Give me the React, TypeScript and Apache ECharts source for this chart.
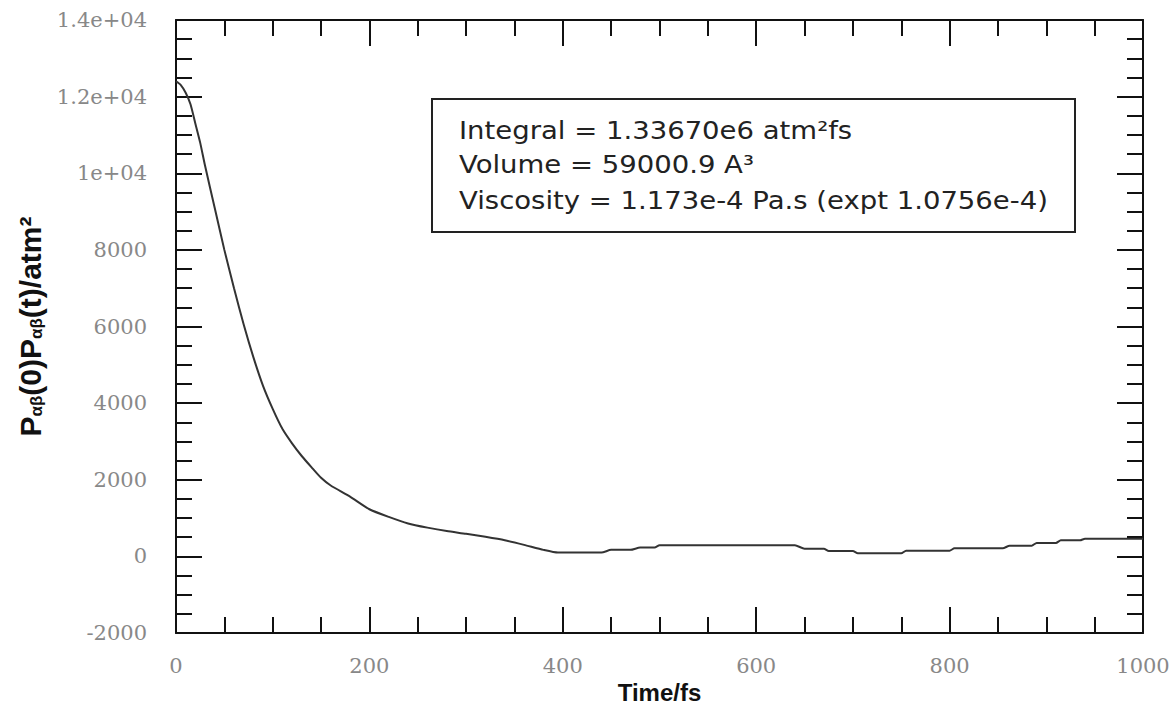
import React, { useEffect, useRef } from "react";
import * as echarts from "echarts";

const timeFs = [0, 5, 10, 15, 20, 25, 30, 40, 50, 60, 70, 80, 90, 100, 110, 120, 130, 140, 150, 160, 180, 200, 220, 240, 260, 280, 300, 320, 340, 360, 380, 395, 440, 450, 470, 480, 495, 500, 640, 650, 670, 675, 700, 705, 750, 755, 800, 805, 855, 862, 885, 890, 910, 915, 935, 940, 1000];
const corr = [12400, 12300, 12100, 11800, 11300, 10800, 10200, 9100, 8000, 7000, 6050, 5200, 4450, 3850, 3330, 2950, 2620, 2330, 2050, 1850, 1560, 1230, 1030, 860, 750, 660, 590, 510, 420, 300, 170, 100, 100, 170, 170, 230, 230, 290, 290, 200, 200, 140, 140, 80, 80, 150, 150, 210, 210, 280, 280, 350, 350, 420, 420, 460, 460];

const infoLines = [
  "Integral = 1.33670e6 atm\u00b2fs",
  "Volume = 59000.9 A\u00b3",
  "Viscosity = 1.173e-4 Pa.s (expt 1.0756e-4)",
];

const xTitle = "Time/fs";
const yTitle = "P{s|\u03b1\u03b2}(0)P{s|\u03b1\u03b2}(t)/atm\u00b2";

function fmtY(v: number): string {
  if (Math.abs(v) >= 10000) {
    return v.toExponential().replace(/e\+(\d)$/, "e+0$1");
  }
  return String(v);
}

export default function App() {
  const ref = useRef<HTMLDivElement>(null);
  useEffect(() => {
    if (!ref.current) return;
    const chart = echarts.init(ref.current, null, { renderer: "svg" });
    const axisLine = { show: true, onZero: false, lineStyle: { color: "#111", width: 2 } };
    const labelStyle = { color: "#888", fontFamily: "DejaVu Serif", fontSize: 21 };
    const tick = { show: true, inside: true, length: 26, lineStyle: { color: "#111", width: 2 } };
    const minor = { show: true, splitNumber: 4, length: 16, lineStyle: { color: "#111", width: 2 } };
    const commonX = {
      min: 0,
      max: 1000,
      interval: 200,
      axisLine,
      axisTick: tick,
      minorTick: minor,
      splitLine: { show: false },
    };
    const commonY = {
      min: -2000,
      max: 14000,
      interval: 2000,
      axisLine,
      axisTick: tick,
      minorTick: minor,
      splitLine: { show: false },
    };
    const lineYs = [130, 164, 200];
    chart.setOption({
      animation: false,
      backgroundColor: "#fff",
      grid: { left: 176, right: 30, top: 20, bottom: 73, containLabel: false, outerBoundsMode: "none" },
      xAxis: [
        {
          type: "value",
          position: "bottom",
          ...commonX,
          axisLabel: { ...labelStyle, margin: 22, formatter: (v: number) => String(v) },
          name: xTitle,
          nameLocation: "middle",
          nameGap: 45,
          nameTextStyle: { fontFamily: "Liberation Sans", fontWeight: "bold", fontSize: 24, color: "#111" },
        },
        {
          type: "value",
          position: "top",
          ...commonX,
          axisLabel: { show: false },
        },
      ],
      yAxis: [
        {
          type: "value",
          position: "left",
          ...commonY,
          axisLabel: { ...labelStyle, margin: 29, formatter: fmtY },
          name: yTitle,
          nameLocation: "middle",
          nameGap: 131,
          nameRotate: 90,
          nameTextStyle: {
            fontFamily: "Liberation Sans",
            fontWeight: "bold",
            fontSize: 30,
            color: "#111",
            rich: {
              s: { fontFamily: "Liberation Sans", fontWeight: "bold", fontSize: 17, color: "#111", verticalAlign: "bottom", padding: [12, 0, 0, 0] },
            },
          },
        },
        {
          type: "value",
          position: "right",
          ...commonY,
          axisLabel: { show: false },
        },
      ],
      graphic: [
        {
          type: "rect",
          shape: { x: 432, y: 99, width: 643, height: 133 },
          style: { fill: "#fff", stroke: "#222", lineWidth: 2 },
          z: 10,
        },
        ...infoLines.map((t, i) => ({
          type: "text",
          x: 459,
          y: lineYs[i],
          scaleX: 1.1,
          z: 11,
          style: {
            text: t,
            fontFamily: "DejaVu Sans",
            fontSize: 25,
            fill: "#222",
            textVerticalAlign: "middle",
          },
        })),
      ],
      series: [
        {
          type: "line",
          xAxisIndex: 0,
          yAxisIndex: 0,
          data: timeFs.map((t, i) => [t, corr[i]]),
          showSymbol: false,
          smooth: 0.2,
          lineStyle: { color: "#333", width: 2 },
          z: 5,
        },
      ],
    });
    return () => chart.dispose();
  }, []);
  return <div ref={ref} style={{ position: "absolute", left: 0, top: 0, width: 1173, height: 706 }} />;
}
